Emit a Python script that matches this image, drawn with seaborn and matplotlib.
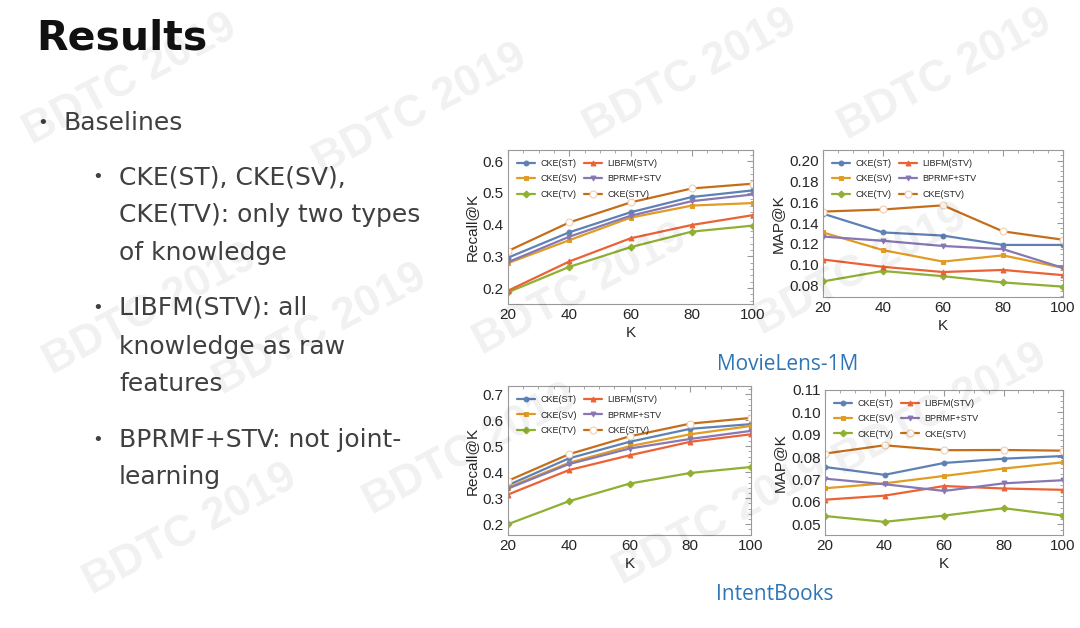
import matplotlib
matplotlib.use("Agg")
import matplotlib.pyplot as plt
import seaborn as sns
import pandas as pd
from matplotlib.ticker import MultipleLocator

# K values and method names
k_values = [20, 40, 60, 80, 100]
methods = ["CKE(ST)", "CKE(SV)", "CKE(TV)", "LIBFM(STV)", "BPRMF+STV", "CKE(STV)"]

# MovieLens-1M
ml_recall = {
    "CKE(ST)":    [0.296, 0.376, 0.439, 0.487, 0.508],
    "CKE(SV)":    [0.279, 0.351, 0.422, 0.460, 0.468],
    "CKE(TV)":    [0.187, 0.267, 0.329, 0.378, 0.397],
    "LIBFM(STV)": [0.192, 0.284, 0.357, 0.399, 0.430],
    "BPRMF+STV":  [0.282, 0.362, 0.428, 0.474, 0.495],
    "CKE(STV)":   [0.317, 0.407, 0.470, 0.514, 0.529],
}
ml_map = {
    "CKE(ST)":    [0.149, 0.131, 0.128, 0.119, 0.119],
    "CKE(SV)":    [0.131, 0.114, 0.103, 0.109, 0.097],
    "CKE(TV)":    [0.084, 0.094, 0.089, 0.083, 0.079],
    "LIBFM(STV)": [0.105, 0.098, 0.093, 0.095, 0.090],
    "BPRMF+STV":  [0.127, 0.123, 0.118, 0.115, 0.097],
    "CKE(STV)":   [0.151, 0.153, 0.157, 0.132, 0.124],
}

# IntentBooks
ib_recall = {
    "CKE(ST)":    [0.350, 0.453, 0.517, 0.567, 0.585],
    "CKE(SV)":    [0.341, 0.436, 0.500, 0.546, 0.578],
    "CKE(TV)":    [0.200, 0.288, 0.356, 0.397, 0.420],
    "LIBFM(STV)": [0.314, 0.408, 0.465, 0.517, 0.546],
    "BPRMF+STV":  [0.337, 0.431, 0.491, 0.528, 0.559],
    "CKE(STV)":   [0.367, 0.469, 0.538, 0.587, 0.609],
}
ib_map = {
    "CKE(ST)":    [0.0756, 0.0721, 0.0774, 0.0793, 0.0805],
    "CKE(SV)":    [0.0661, 0.0683, 0.0716, 0.0749, 0.0777],
    "CKE(TV)":    [0.0537, 0.0511, 0.0539, 0.0572, 0.0539],
    "LIBFM(STV)": [0.0610, 0.0628, 0.0671, 0.0660, 0.0654],
    "BPRMF+STV":  [0.0704, 0.0679, 0.0649, 0.0683, 0.0697],
    "CKE(STV)":   [0.0816, 0.0853, 0.0831, 0.0832, 0.0829],
}

# style per method (Mathematica-like defaults)
colors = {
    "CKE(ST)": "#5E81B5", "CKE(SV)": "#E19C24", "CKE(TV)": "#8FB032",
    "LIBFM(STV)": "#EB6235", "BPRMF+STV": "#8778B3", "CKE(STV)": "#C56E1A",
}
markers = {
    "CKE(ST)": "o", "CKE(SV)": "s", "CKE(TV)": "D",
    "LIBFM(STV)": "^", "BPRMF+STV": "v", "CKE(STV)": "o",
}

sns.set_style("white")
plt.rcParams['font.family'] = ['Liberation Sans', 'DejaVu Sans']

fig = plt.figure(figsize=(10.8, 6.28), dpi=100)
fig.patch.set_facecolor("white")


def draw_panel(rect, data, ylabel, ylim, ymajor, yminor, yfmt):
    ax = fig.add_axes(rect)
    rows = []
    for m in methods:
        for k, v in zip(k_values, data[m]):
            rows.append({"K": k, "value": v, "method": m})
    df = pd.DataFrame(rows)
    for m in methods:
        sub = df[df["method"] == m]
        hollow = m == "CKE(STV)"
        sns.lineplot(data=sub, x="K", y="value", ax=ax, color=colors[m],
                     marker=markers[m], markersize=5 if hollow else 3.5,
                     markerfacecolor="white" if hollow else colors[m],
                     markeredgecolor="#F2C9A8" if hollow else colors[m],
                     linewidth=1.6, label=m)
    ax.set_xlim(20, 100)
    ax.set_ylim(*ylim)
    ax.xaxis.set_major_locator(MultipleLocator(20))
    ax.xaxis.set_minor_locator(MultipleLocator(5))
    ax.yaxis.set_major_locator(MultipleLocator(ymajor))
    ax.yaxis.set_minor_locator(MultipleLocator(yminor))
    ax.yaxis.set_major_formatter(yfmt)
    ax.tick_params(which="both", direction="in", top=True, right=True,
                   color="#999999", labelsize=11, pad=3)
    ax.tick_params(which="major", length=4)
    ax.tick_params(which="minor", length=2)
    for s in ax.spines.values():
        s.set_color("#999999")
        s.set_linewidth(0.8)
    ax.set_xlabel("K", fontsize=11, labelpad=3)
    ax.set_ylabel(ylabel, fontsize=11, labelpad=3)
    ax.legend(ncol=2, loc="upper left", frameon=False, fontsize=6.5,
              handlelength=2.0, handletextpad=0.6, columnspacing=0.8,
              labelspacing=0.7, borderaxespad=0.6)
    return ax


draw_panel([0.4704, 0.5159, 0.2269, 0.2452], ml_recall, "Recall@K",
           (0.15, 0.635), 0.1, 0.02, "{x:.1f}")
draw_panel([0.7620, 0.5270, 0.2222, 0.2340], ml_map, "MAP@K",
           (0.069, 0.21), 0.02, 0.005, "{x:.2f}")
draw_panel([0.4704, 0.1480, 0.2250, 0.2370], ib_recall, "Recall@K",
           (0.158, 0.731), 0.1, 0.02, "{x:.1f}")
draw_panel([0.7639, 0.1480, 0.2204, 0.2310], ib_map, "MAP@K",
           (0.0452, 0.11), 0.01, 0.0025, "{x:.2f}")

# slide text
fig.text(36 / 1080, 1 - 39 / 628, "Results", fontsize=29.5, fontweight="bold",
         color="#111111", va="center", ha="left", family=["DejaVu Sans"])
txt = "#404040"
body_font = ["DejaVu Sans"]
fig.text(37 / 1080, 1 - 123 / 628, "\u2022", fontsize=13, color=txt, va="center",
         family=body_font)
fig.text(63 / 1080, 1 - 123 / 628, "Baselines", fontsize=18, color=txt, va="center",
         family=body_font)
sub_lines = [
    (177, True, "CKE(ST), CKE(SV),"),
    (215, False, "CKE(TV): only two types"),
    (253, False, "of knowledge"),
    (308, True, "LIBFM(STV): all"),
    (347, False, "knowledge as raw"),
    (384, False, "features"),
    (440, True, "BPRMF+STV: not joint-"),
    (477, False, "learning"),
]
for y, bullet, s in sub_lines:
    if bullet:
        fig.text(92 / 1080, 1 - y / 628, "\u2022", fontsize=13, color=txt,
                 va="center", family=body_font)
    fig.text(119 / 1080, 1 - y / 628, s, fontsize=18, color=txt, va="center",
             family=body_font)

fig.text(788 / 1080, 1 - 365 / 628, "MovieLens-1M", fontsize=15, color="#2E75B6",
         ha="center", va="center", family=["Open Sans", "DejaVu Sans"])
fig.text(775 / 1080, 1 - 594 / 628, "IntentBooks", fontsize=15, color="#2E75B6",
         ha="center", va="center", family=["Open Sans", "DejaVu Sans"])

# watermark
wm = [(130, 80), (420, 110), (690, 75), (945, 75),
      (150, 310), (320, 330), (580, 290), (860, 270),
      (190, 530), (470, 450), (720, 520), (940, 410)]
for x, y in wm:
    fig.text(x / 1080, 1 - y / 628, "BDTC 2019", fontsize=32, fontweight="bold",
             color="#000000", alpha=0.06, rotation=28, ha="center", va="center",
             zorder=10)

fig.savefig("out.png", dpi=100, facecolor="white")
